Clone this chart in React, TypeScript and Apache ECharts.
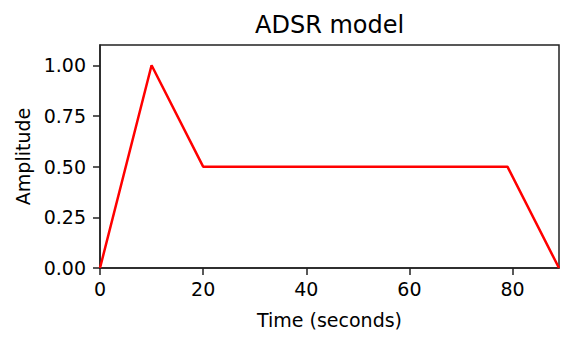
import React, { useEffect, useRef } from "react";
import * as echarts from "echarts";

const times = [0, 10, 20, 79, 89];
const amplitudes = [0, 1, 0.5, 0.5, 0];
const xTicks = [0, 20, 40, 60, 80];
const yTicks = [0, 0.25, 0.5, 0.75, 1.0];

export default function App() {
  const ref = useRef<HTMLDivElement>(null);
  useEffect(() => {
    if (!ref.current) return;
    const chart = echarts.init(ref.current, null, { renderer: "svg" });
    const font = "DejaVu Sans";
    const axisColor = "#222";
    chart.setOption({
      animation: false,
      backgroundColor: "#fff",
      title: {
        text: "ADSR model",
        left: 250,
        top: 8,
        textStyle: { fontFamily: font, fontSize: 24, fontWeight: "normal", color: "#000" },
      },
      grid: {
        left: 100,
        right: 14,
        top: 45,
        bottom: 74,
        show: true,
        borderColor: axisColor,
        borderWidth: 1.5,
        backgroundColor: "transparent",
      },
      xAxis: {
        type: "value",
        min: 0,
        max: 89,
        interval: 20,
        name: "Time (seconds)",
        nameLocation: "middle",
        nameGap: 42,
        nameTextStyle: { fontFamily: font, fontSize: 19, color: "#000" },
        axisLine: { show: true, lineStyle: { color: axisColor, width: 1.5 } },
        axisTick: { show: true, inside: false, length: 7, lineStyle: { color: axisColor, width: 1.5 } },
        axisLabel: {
          fontFamily: font,
          fontSize: 19,
          color: "#000",
          margin: 11,
          showMaxLabel: false,
          formatter: (v: number) => (xTicks.includes(v) ? String(v) : ""),
        },
        splitLine: { show: false },
      },
      yAxis: {
        type: "value",
        min: 0,
        max: 1.1,
        interval: 0.25,
        name: "Amplitude",
        nameLocation: "middle",
        nameGap: 62,
        nameRotate: 90,
        nameTextStyle: { fontFamily: font, fontSize: 19, color: "#000" },
        axisLine: { show: true, lineStyle: { color: axisColor, width: 1.5 } },
        axisTick: { show: true, inside: false, length: 7, lineStyle: { color: axisColor, width: 1.5 } },
        axisLabel: {
          fontFamily: font,
          fontSize: 19,
          color: "#000",
          margin: 14,
          showMaxLabel: false,
          formatter: (v: number) =>
            yTicks.some((t) => Math.abs(t - v) < 1e-9) ? v.toFixed(2) : "",
        },
        splitLine: { show: false },
      },
      series: [
        {
          type: "line",
          data: times.map((t, i) => [t, amplitudes[i]]),
          showSymbol: false,
          symbol: "none",
          lineStyle: { color: "#ff0000", width: 2.5 },
          clip: true,
        },
      ],
    });
    return () => chart.dispose();
  }, []);
  return <div ref={ref} style={{ width: 573, height: 342, position: "absolute", left: 0, top: 0 }} />;
}
